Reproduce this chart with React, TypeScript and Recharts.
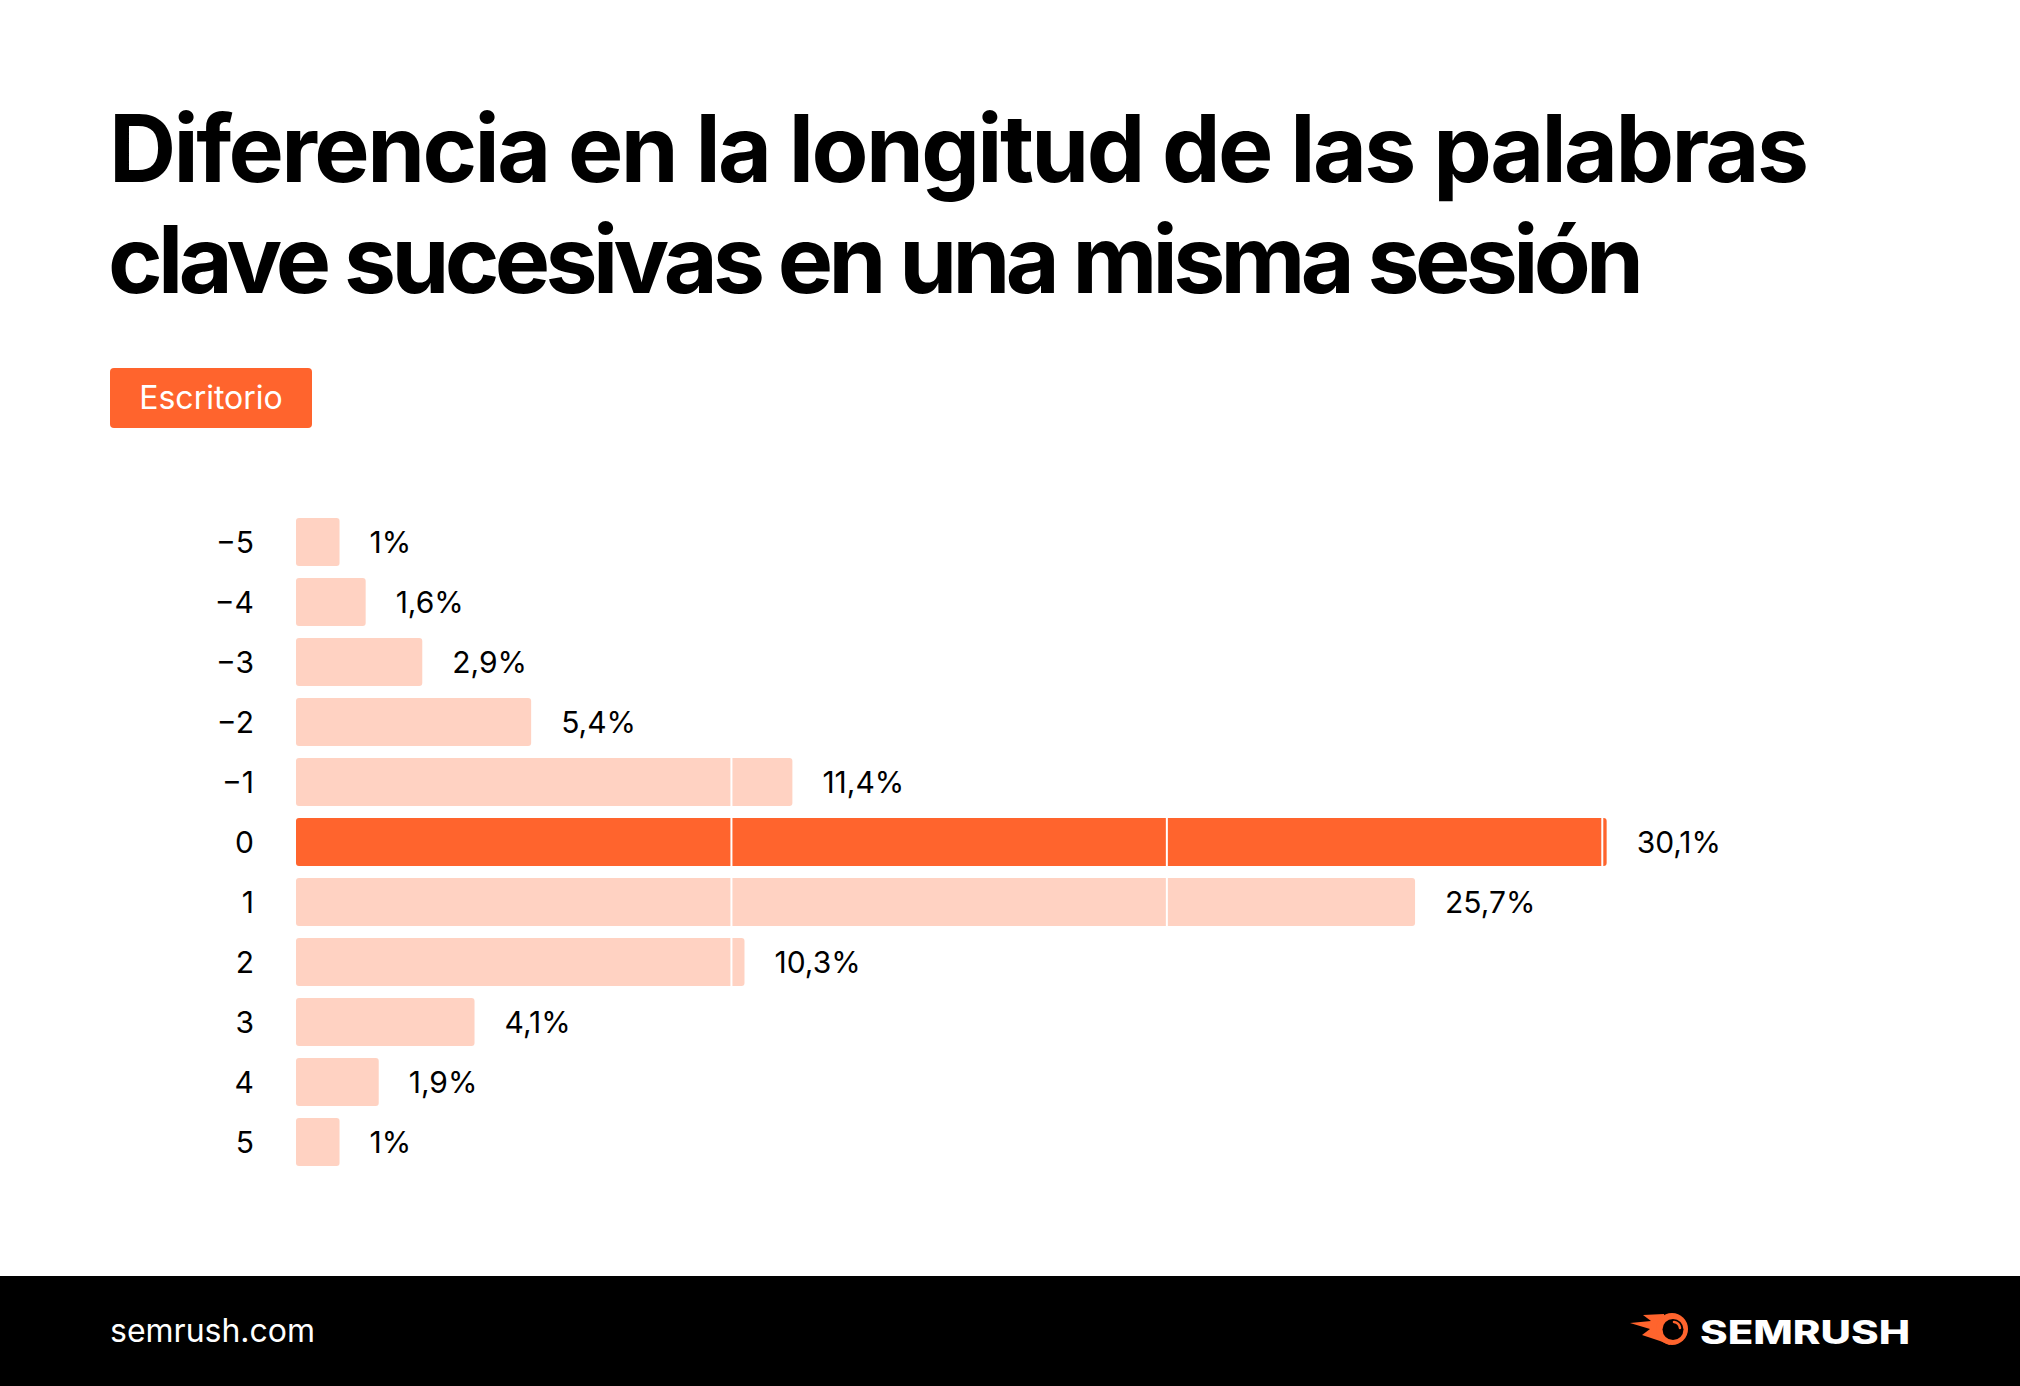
import React from 'react';
import {
	BarChart,
	Bar,
	XAxis,
	YAxis,
	Cell,
	LabelList,
	Legend,
	ReferenceLine,
} from 'recharts';

// differences in keyword length between successive queries
const categories = ['−5', '−4', '−3', '−2', '−1', '0', '1', '2', '3', '4', '5'];
const desktopShare = [1, 1.6, 2.9, 5.4, 11.4, 30.1, 25.7, 10.3, 4.1, 1.9, 1];
const highlighted = '0';
const gridValues = [10, 20, 30];
const seriesName = 'Escritorio';

const titleLines = [
	'Diferencia en la longitud de las palabras',
	'clave sucesivas en una misma sesión',
];

const ORANGE = '#FF642D';
const PEACH = '#FFD2C2';
const FONT = 'Inter, "Noto Sans", sans-serif';

const data = categories.map((diff, i) => ({ diff, value: desktopShare[i] }));

const formatPct = (v: any) => `${String(v).replace('.', ',')}%`;

const Badge = () => (
	<div
		style={{
			background: ORANGE,
			color: '#fff',
			width: 202,
			height: 60,
			borderRadius: 4,
			fontFamily: FONT,
			fontSize: 32,
			lineHeight: '60px',
			textAlign: 'center',
		}}
	>
		{seriesName}
	</div>
);

const Decorations = () => (
	<svg width={2020} height={1386} style={{ position: 'absolute', left: 0, top: 0 }}>
		<text
			x={109}
			y={182}
			fontFamily={FONT}
			fontWeight={700}
			fontSize={93}
			textLength={1700}
			lengthAdjust="spacing"
			fill="#000"
		>
			{titleLines[0]}
		</text>
		<text
			x={108}
			y={293}
			fontFamily={FONT}
			fontWeight={700}
			fontSize={93}
			textLength={1536}
			lengthAdjust="spacing"
			fill="#000"
		>
			{titleLines[1]}
		</text>

		<rect x={0} y={1276} width={2020} height={110} fill="#000" />
		<text x={110} y={1342} fontFamily={FONT} fontSize={32} fill="#fff">
			semrush.com
		</text>

		{/* logo */}
		<g transform="translate(1630,1313)">
			<path d="M 34 1 L 13 2 L 21 8 L 0 10 L 20 16 L 12 22 L 30 28 L 40 32 Z" fill={ORANGE} />
			<circle cx={42} cy={16} r={16} fill={ORANGE} />
			<circle cx={43} cy={16.5} r={10.5} fill="#000" />
			<path d="M 44 9 A 7 7 0 0 1 50 15" stroke={ORANGE} strokeWidth={2.5} fill="none" strokeLinecap="round" />
		</g>
		<text
			x={1700}
			y={1344}
			fontFamily={FONT}
			fontWeight={800}
			fontSize={32}
			textLength={210}
			lengthAdjust="spacingAndGlyphs"
			fill="#fff"
		>
			SEMRUSH
		</text>
	</svg>
);

export default function App() {
	return (
		<div
			style={{
				position: 'absolute',
				left: 0,
				top: 0,
				width: 2020,
				height: 1386,
				background: '#fff',
				fontFamily: FONT,
			}}
		>
			<Decorations />
			<div style={{ position: 'absolute', left: 0, top: 0 }}>
				<BarChart
					width={2020}
					height={1386}
					data={data}
					layout="vertical"
					barSize={48}
					margin={{ top: 512, right: 200, bottom: 214, left: 196 }}
				>
					<XAxis type="number" domain={[0, 35]} hide />
					<YAxis
						type="category"
						dataKey="diff"
						width={100}
						axisLine={false}
						tickLine={false}
						tickSize={0}
						tickMargin={42}
						tick={{ fill: '#000', fontSize: 30, fontFamily: FONT }}
					/>
					<Legend
						layout="horizontal"
						verticalAlign="middle"
						align="center"
						content={() => <Badge />}
						wrapperStyle={{ left: 110, top: 368, width: 'auto' }}
					/>
					<Bar dataKey="value" name={seriesName} radius={3} isAnimationActive={false}>
						{data.map((d) => (
							<Cell key={d.diff} fill={d.diff === highlighted ? ORANGE : PEACH} />
						))}
						<LabelList
							dataKey="value"
							position="right"
							offset={30}
							formatter={formatPct}
							style={{ fill: '#000', fontSize: 30, fontFamily: FONT }}
						/>
					</Bar>
					{gridValues.map((v) => (
						<ReferenceLine key={v} x={v} stroke="#fff" strokeWidth={2} />
					))}
				</BarChart>
			</div>
		</div>
	);
}
